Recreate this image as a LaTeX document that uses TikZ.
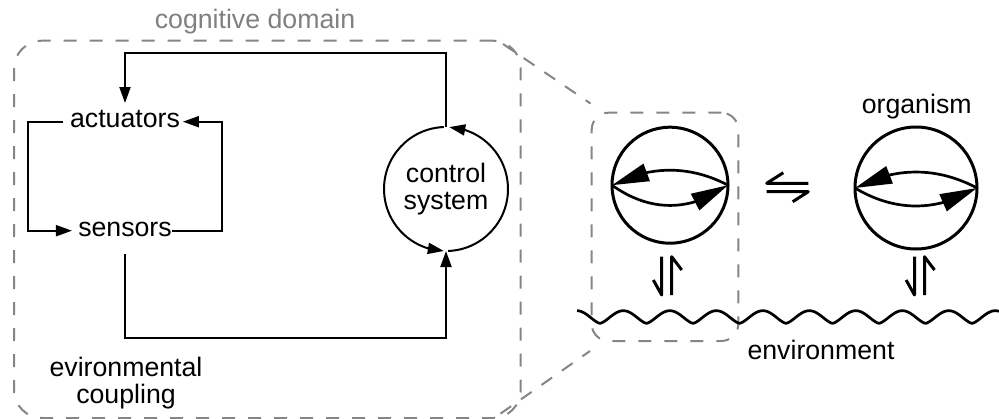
\documentclass[tikz,border=0pt]{standalone}
\usepackage{fontspec}
\setmainfont{Liberation Sans}
\usetikzlibrary{arrows.meta,bending}
\definecolor{dashgray}{gray}{0.52}
\definecolor{labelgray}{gray}{0.5}
\tikzset{
  harp/.style={line width=3pt, line join=round},
  vharp/.pic={
    \draw[harp] (-5,-19.3) -- (-5,19) -- (-13.4,4);
    \draw[harp] (15,-6) -- (5,-19.3) -- (5,19);
  },
  hharp/.pic={
    \draw[harp] (-4.2,-14.8) -- (-20.8,-4.2) -- (20.8,-4.2);
    \draw[harp] (-20.8,4.2) -- (20.8,4.2) -- (5.2,14.2);
  }
}
\begin{document}
\begin{tikzpicture}[x=1pt, y=-1pt,
  >={Triangle[length=16pt,width=11pt]},
  txt/.style={font=\fontsize{26.7pt}{26.7pt}\selectfont, inner sep=0pt, outer sep=0pt},
  part/.style={txt, text height=24.3pt, text depth=13.1pt},
  conn/.style={line width=2pt},
  dbox/.style={draw=dashgray, line width=2pt, dash pattern=on 13pt off 13pt,
    rectangle, inner sep=0pt, outer sep=0pt},
  zline/.style={draw=dashgray, line width=2pt, dash pattern=on 13pt off 12pt},
  orgc/.style={draw, circle, line width=3pt, inner sep=0pt, outer sep=0pt},
  flow/.style={line width=2.7pt, -{Triangle[length=37pt,width=18pt]}},
  wave/.style={line width=2.7pt}]

\useasboundingbox (0,0) rectangle (999,418);
\clip (0,0) rectangle (999,418);

% cognitive domain frame
\node[dbox, minimum width=506.7pt, minimum height=377.3pt, rounded corners=28pt]
  (dom) at (267.35,229.35) {};
\node[txt, text=labelgray, anchor=base] (domlbl) at (255,28.3) {cognitive domain};

% parts of the agent
\node[part, anchor=base] (act) at (125,127.3) {actuators};
\node[part, anchor=base] (sens) at (125,236.3) {sensors};
\node[txt, circle, minimum size=124pt, align=center] (cs) at (446,189) {control\\system};
\node[txt, align=center, anchor=north] (coup) at (126,357.2) {evironmental\\coupling};

% sensorimotor loop
\draw[conn, ->, shorten <=7pt, shorten >=6.3pt] (act.west) -- ++(-41.7,0) |- (sens.west);
\draw[conn, ->, shorten >=3pt] (sens.east) -- ++(50,0) |- (act.east);
\draw[conn, ->] (cs.north) -- ++(0,-74.3) -| (act.north);
\draw[conn, ->, shorten <=4.6pt] (sens.south) -- ++(0,88.6) -| (cs.south);

% circulating control system
\draw[conn, ->] (cs.92) arc[start angle=-92, end angle=-268, radius=62];
\draw[conn, ->] (cs.272) arc[start angle=-272, end angle=-447, radius=62];

% magnified region
\node[dbox, minimum width=146.6pt, minimum height=228.3pt, rounded corners=17pt]
  (zbox) at (665,226.85) {};
\coordinate (zt) at (503,44);
\coordinate (zt2) at (590.5,103.5);
\coordinate (zb) at (480,428);
\coordinate (zb2) at (590,351);
\draw[zline] (zt) -- (zt2);
\draw[zline] (zb) -- (zb2);

% organisms
\node[orgc, minimum size=116pt] (o1) at (670,185.2) {};
\node[orgc, minimum size=122pt] (o2) at (916,188) {};
\node[txt, anchor=base] (orglbl) at (916.7,113.3) {organism};
\draw[flow] (o1.east) .. controls +(-38,-20) and +(38,-20) .. (o1.west);
\draw[flow] (o1.west) .. controls +(38,27) and +(-38,27) .. (o1.east);
\draw[flow] (o2.east) .. controls +(-40,-21.3) and +(40,-21.3) .. (o2.west);
\draw[flow] (o2.west) .. controls +(40,24) and +(-40,24) .. (o2.east);

% couplings
\pic at (787.5,187.5) {hharp};
\pic at (666.7,276) {vharp};
\pic at (919.5,276) {vharp};

% environment
\draw[wave] plot[domain=577:999, samples=400]
  (\x, {323.3 - 12.6*abs(cos(3.871*(\x-576.8)))*sqrt(abs(cos(3.871*(\x-576.8))))});
\node[txt, anchor=base] (env) at (821,359.5) {environment};
\end{tikzpicture}
\end{document}
